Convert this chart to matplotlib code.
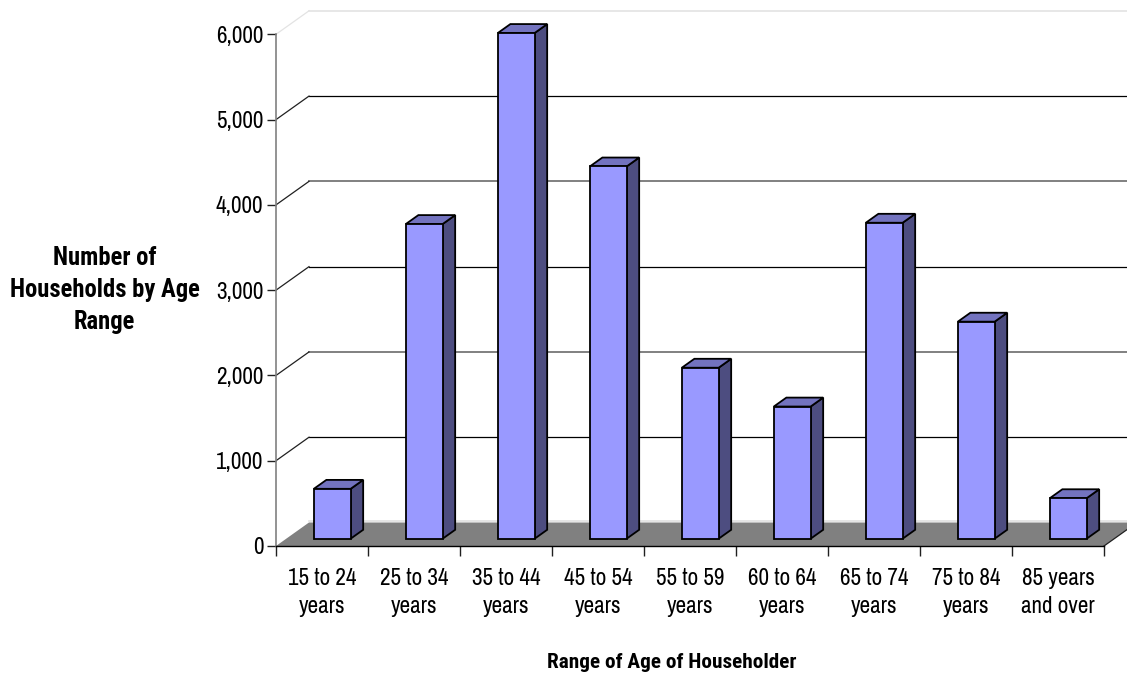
import matplotlib
matplotlib.use("Agg")
import matplotlib.pyplot as plt
from matplotlib import font_manager
from matplotlib.patches import Polygon
from matplotlib.ticker import FixedLocator, NullFormatter, FixedFormatter

# ---- data -------------------------------------------------------------
categories = ["15 to 24\nyears", "25 to 34\nyears", "35 to 44\nyears",
              "45 to 54\nyears", "55 to 59\nyears", "60 to 64\nyears",
              "65 to 74\nyears", "75 to 84\nyears", "85 years\nand over"]
households = [585, 3690, 5930, 4365, 2005, 1550, 3705, 2545, 475]
y_ticks = [0, 1000, 2000, 3000, 4000, 5000, 6000]
y_tick_labels = ["0", "1,000", "2,000", "3,000", "4,000", "5,000", "6,000"]
x_title = "Range of Age of Householder"
y_title_lines = ["Number of", "Households by Age", "Range"]

# ---- fonts: narrow sans-serif faces -----------------------------------
faces = font_manager.fontManager.ttflist
regular = {f.name for f in faces if f.style == "normal"}
bold = {f.name for f in faces if f.style == "normal" and int(f.weight) >= 700}
tick_family = next((f for f in ["Liberation Sans Narrow", "Arial Narrow", "Archivo Narrow",
                                "Roboto Condensed"] if f in regular), "Liberation Sans")
title_family = next((f for f in ["Liberation Sans Narrow", "Arial Narrow", "Roboto Condensed",
                                 "IBM Plex Sans Condensed", "Fira Sans Condensed",
                                 "PT Sans Narrow"] if f in bold), "Liberation Sans")
plt.rcParams["font.family"] = [tick_family, "DejaVu Sans"]

# ---- figure / axes geometry ------------------------------------------
W, H = 1127, 677
fig = plt.figure(figsize=(W / 100, H / 100), dpi=100)
px_per_cat = 92.0
px_per_unit = 85.28 / 1000.0
x0_px, y0_px = 276, 546          # origin of the front plane, pixels from top-left
ax = fig.add_axes([x0_px / W, 1 - y0_px / H, (W - x0_px) / W, y0_px / H])
ax.set_xlim(0, (W - x0_px) / px_per_cat)
ax.set_ylim(0, y0_px / px_per_unit)
ax.set_facecolor("none")

n = len(categories)
# oblique depth of the chart floor, in data units
DX = 33 / px_per_cat
DY = 23.5 / px_per_unit
# bars occupy the middle part of the depth
f0, f1 = 0.31, 0.69
bar_w = 0.40

front_col = "#9999FF"
top_col = "#7373BF"
side_col = "#4D4D80"

# floor
floor = Polygon([(0, 0), (n, 0), (n + DX, DY), (DX, DY)], closed=True,
                facecolor="#808080", edgecolor="none", zorder=1)
ax.add_patch(floor)
ax.plot([n, n + DX], [0, DY], color="#202020", lw=0.9, zorder=2, clip_on=False)

# walls: grid lines on back wall and diagonals on side wall
grid_style = {1000: ("black", 0.9), 2000: ("#808080", 1.4), 3000: ("black", 0.9),
              4000: ("#808080", 1.4), 5000: ("black", 0.9), 6000: ("#E3E3E3", 1.2)}
for v in y_ticks:
    if v == 0:
        ax.plot([DX, n + 2], [DY + 15, DY + 15], color="#E0E0E0", lw=1.2, zorder=1.5)
        continue
    c, lw = grid_style[v]
    ax.plot([DX, n + 2], [v + DY, v + DY], color=c, lw=lw, zorder=1.5)
    ax.plot([0, DX], [v, v + DY], color=("#E3E3E3" if v == 6000 else "#202020"),
            lw=0.9, zorder=1.5)

# 3-D styled bars
for i, val in enumerate(households):
    xl = i + 0.5 - bar_w / 2 + f0 * DX
    xr = xl + bar_w
    base = f0 * DY
    top = val + f0 * DY
    bdx, bdy = (f1 - f0) * DX, (f1 - f0) * DY
    ec = dict(edgecolor="black", linewidth=1.3, joinstyle="miter", zorder=3)
    ax.add_patch(Polygon([(xr, base), (xr + bdx, base + bdy), (xr + bdx, top + bdy), (xr, top)],
                         closed=True, facecolor=side_col, **ec))
    ax.add_patch(Polygon([(xl, top), (xr, top), (xr + bdx, top + bdy), (xl + bdx, top + bdy)],
                         closed=True, facecolor=top_col, **ec))
    ax.add_patch(Polygon([(xl, base), (xr, base), (xr, top), (xl, top)],
                         closed=True, facecolor=front_col, **ec))

# ---- axes styling -----------------------------------------------------
for s in ("top", "right"):
    ax.spines[s].set_visible(False)
ax.spines["left"].set_bounds(0, 6000)
ax.spines["left"].set_color("#808080")
ax.spines["left"].set_linewidth(1.2)
ax.spines["bottom"].set_bounds(0, n)
ax.spines["bottom"].set_color("black")
ax.spines["bottom"].set_linewidth(1.0)
ax.spines["left"].set_zorder(4)
ax.spines["bottom"].set_zorder(4)

tick_size = 16.7
ax.yaxis.set_major_locator(FixedLocator(y_ticks))
ax.yaxis.set_major_formatter(FixedFormatter(y_tick_labels))
ax.tick_params(axis="y", which="major", direction="out", length=6.5, width=1.0,
               color="#202020", pad=2.5, labelsize=tick_size, labelcolor="black")

ax.xaxis.set_major_locator(FixedLocator(range(n + 1)))
ax.xaxis.set_major_formatter(NullFormatter())
ax.xaxis.set_minor_locator(FixedLocator([i + 0.5 for i in range(n)]))
ax.xaxis.set_minor_formatter(FixedFormatter(categories))
ax.tick_params(axis="x", which="major", direction="out", length=7, width=1.0, color="#202020")
ax.tick_params(axis="x", which="minor", length=0, pad=15.5, labelsize=tick_size,
               labelcolor="black")
for lab in ax.xaxis.get_minorticklabels():
    lab.set_linespacing(1.45)
    lab.set_horizontalalignment("center")

# ---- titles (bold, sized to their set widths) -------------------------
renderer = fig.canvas.get_renderer()


def fitted_text(x_px, y_px, s, width_px, size):
    t = fig.text(x_px / W, 1 - y_px / H, s, ha="center", va="center",
                 family=[title_family, "DejaVu Sans"], fontsize=size, fontweight="bold")
    w = t.get_window_extent(renderer).width
    t.set_fontsize(size * width_px / w)
    return t


fitted_text(672, 662, x_title, 250, 15.5)
y_title_size = None
for k, (line, y_px) in enumerate(zip(y_title_lines, [258, 290, 322])):
    if y_title_size is None:
        probe = fitted_text(104.5, y_px, y_title_lines[1], 190, 17.5)
        y_title_size = probe.get_fontsize()
        probe.remove()
    fig.text(104.5 / W, 1 - y_px / H, line, ha="center", va="center",
             family=[title_family, "DejaVu Sans"], fontsize=y_title_size, fontweight="bold")

fig.savefig("out.png", dpi=100, facecolor="white")
